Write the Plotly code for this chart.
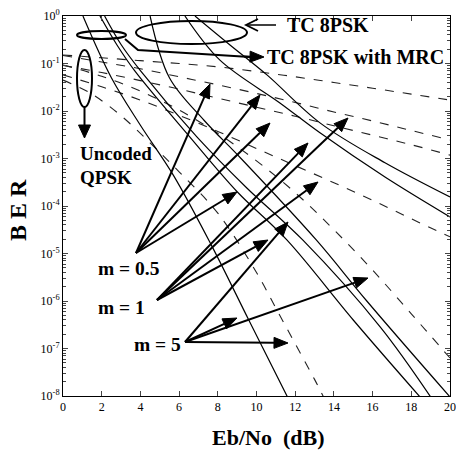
import math
import plotly.graph_objects as go

# ---------------- data (x: Eb/No in dB, y: log10(BER)) ----------------
ebno = [0, 2, 4, 6, 8, 10, 12, 14, 16, 18, 20]
# uncoded QPSK (dashed)
q_m05 = [-0.82, -0.88, -0.94, -1.00, -1.07, -1.17, -1.28, -1.40, -1.52, -1.645, -1.77]
q_m1 = [-0.83, -0.97, -1.11, -1.28, -1.45, -1.63, -1.82, -2.02, -2.21, -2.41, -2.61]
q_m05_mrc = [-1.04, -1.19, -1.36, -1.54, -1.73, -1.92, -2.11, -2.31, -2.51, -2.71, -2.93]
q_m1_mrc = [-1.24, -1.49, -1.77, -2.09, -2.43, -2.79, -3.15, -3.51, -3.88, -4.27, -4.65]
q_m5 = [-1.03, -1.27, -1.58, -1.98, -2.47, -3.05, -3.72, -4.50, -5.35, -6.27, -7.20]
q_m5_mrc_x = [0, 1.4, 3, 4.5, 6, 8, 10, 11, 12, 13, 13.5]
q_m5_mrc = [-1.35, -1.62, -2.10, -2.67, -3.28, -4.15, -5.40, -6.15, -6.90, -7.65, -8.05]

# TC 8PSK (solid)
tc_a_x = [1.03, 2.5, 4.0, 5.7, 7.7, 9.6, 11.6]
tc_a_y = [0.0, -1.3, -2.3, -3.35, -4.85, -6.4, -8.02]
tc_b_x = [1.91, 2.79, 3.7, 6.56, 9.0, 11.58, 15.0, 18.45]
tc_b_y = [0.0, -0.61, -1.15, -2.55, -3.7, -4.72, -6.4, -8.02]
tc_c_x = [2.15, 3.0, 4.0, 6.93, 9.5, 12.4, 16.4, 19.0]
tc_c_y = [0.0, -0.6, -1.15, -2.55, -3.62, -4.72, -6.55, -8.02]
tc_d_x = [4.5, 5.5, 7.3, 9.2, 13.1, 15.7, 20.0]
tc_d_y = [0.0, -1.3, -2.2, -3.0, -4.72, -6.0, -8.02]
tc_e_x = [6.82, 8.63, 10.54, 13.28, 16.64, 20.0]
tc_e_y = [0.0, -0.61, -1.24, -2.25, -3.09, -3.81]
tc_f_x = [6.3, 8.11, 11.21, 13.28, 16.64, 20.0]
tc_f_y = [0.0, -0.93, -1.83, -2.46, -3.39, -4.23]

x_ticks = [0, 2, 4, 6, 8, 10, 12, 14, 16, 18, 20]
y_exps = [0, -1, -2, -3, -4, -5, -6, -7, -8]

fig = go.Figure()

dashed = [(ebno, q_m05), (ebno, q_m1), (ebno, q_m05_mrc), (ebno, q_m1_mrc),
          (ebno, q_m5), (q_m5_mrc_x, q_m5_mrc)]
for xs, ys in dashed:
    fig.add_trace(go.Scatter(x=xs, y=[10 ** v for v in ys], mode="lines",
                             line=dict(color="#222", width=1.1, dash="9px,9px"),
                             line_shape="spline", hoverinfo="skip"))

solid = [(tc_a_x, tc_a_y), (tc_b_x, tc_b_y), (tc_c_x, tc_c_y),
         (tc_d_x, tc_d_y), (tc_e_x, tc_e_y), (tc_f_x, tc_f_y)]
for xs, ys in solid:
    fig.add_trace(go.Scatter(x=xs, y=[10 ** v for v in ys], mode="lines",
                             line=dict(color="black", width=1.2),
                             line_shape="spline", hoverinfo="skip"))

# ---------------- decorations (pixel helpers -> paper coords) ----------------
L, R, T, B = 63, 450, 16, 396


def px(x):
    return (x - L) / (R - L)


def py(y):
    return (B - y) / (B - T)


def path_of(pts, close=False):
    s = "M " + " L ".join(f"{px(a)},{py(b)}" for a, b in pts)
    return s + (" Z" if close else "")


FONT = "Liberation Serif"
shapes = []
# ellipses
for x0, y0, x1, y1 in [(77, 31, 126, 39), (136, 21, 247, 44), (77, 50, 92, 107)]:
    shapes.append(dict(type="circle", xref="paper", yref="paper",
                       x0=px(x0), x1=px(x1), y0=py(y1), y1=py(y0),
                       line=dict(color="black", width=2)))
# connector from small ellipse to "TC 8PSK with MRC"
shapes.append(dict(type="path", xref="paper", yref="paper",
                   path=path_of([(125, 39), (138, 50), (250, 57)]),
                   line=dict(color="black", width=2)))
# pointer to big ellipse ("TC 8PSK"), open head
shapes.append(dict(type="path", xref="paper", yref="paper",
                   path=path_of([(246, 25), (276, 25)]),
                   line=dict(color="black", width=1.5)))
shapes.append(dict(type="path", xref="paper", yref="paper",
                   path=path_of([(258, 19), (246, 25), (258, 31)]),
                   line=dict(color="black", width=1.8)))


def arrow(hx, hy, tx, ty, hl=14, hw=5.5, draw_line=True):
    d = math.hypot(hx - tx, hy - ty)
    ux, uy = (hx - tx) / d, (hy - ty) / d
    bx, by = hx - ux * hl, hy - uy * hl
    if draw_line:
        shapes.append(dict(type="path", xref="paper", yref="paper",
                           path=path_of([(tx, ty), (bx, by)]),
                           line=dict(color="black", width=2)))
    tri = [(hx, hy), (bx - uy * hw, by + ux * hw), (bx + uy * hw, by - ux * hw)]
    shapes.append(dict(type="path", xref="paper", yref="paper",
                       path=path_of(tri, close=True), fillcolor="black",
                       line=dict(color="black", width=1)))


arrow(264, 57, 244, 56.5)
arrow(84.5, 138, 84.5, 107, hl=13, hw=6)

# m labels arrows
v05, v1, v5 = (136, 253), (157, 300), (185, 342)
for hx, hy in [(210, 84), (260, 95), (270, 123), (237, 192)]:
    arrow(hx, hy, *v05)
for hx, hy in [(348, 118), (308, 143), (318, 182), (268, 240)]:
    arrow(hx, hy, *v1)
for hx, hy in [(288, 222), (237, 318), (368, 278), (288, 343)]:
    arrow(hx, hy, *v5)

annotations = []


def label(text, x, y, size, xanchor="left", angle=0):
    annotations.append(dict(x=px(x), y=py(y), xref="paper", yref="paper",
                            text=text, showarrow=False, xanchor=xanchor,
                            yanchor="middle", textangle=angle,
                            font=dict(family=FONT, size=size, color="black")))


label("<b>TC 8PSK</b>", 285, 25, 20)
label("<b>TC 8PSK with MRC</b>", 265, 57, 20)
label("<b>Uncoded</b>", 78, 153, 19)
label("<b>QPSK</b>", 78, 177, 19)
label("<b>m = 0.5</b>", 96, 268, 19.5)
label("<b>m = 1</b>", 96, 307, 19.5)
label("<b>m = 5</b>", 132, 344, 19.5)
label("<b>Eb/No&nbsp; (dB)</b>", 268, 437, 22, xanchor="center")
label("<b>B E R</b>", 18, 210, 24, xanchor="center", angle=-90)

fig.update_layout(
    width=456, height=454,
    margin=dict(l=L, r=456 - R, t=T, b=454 - B, autoexpand=False),
    paper_bgcolor="white", plot_bgcolor="white", showlegend=False,
    font=dict(family=FONT, color="black"),
    shapes=shapes, annotations=annotations,
    xaxis=dict(range=[0, 20], tickvals=x_ticks, ticks="inside", ticklen=5,
               mirror="allticks", showline=True, linecolor="black", linewidth=1,
               showgrid=False, zeroline=False, tickfont=dict(size=12),
               automargin=False),
    yaxis=dict(type="log", range=[-8, 0], tickvals=[10 ** e for e in y_exps],
               ticktext=[f"10<sup>{e}</sup>" for e in y_exps],
               ticks="inside", ticklen=5, mirror="allticks", showline=True,
               linecolor="black", linewidth=1, showgrid=False, zeroline=False,
               tickfont=dict(size=12), automargin=False,
               minor=dict(ticks="inside", ticklen=3, showgrid=False,
                          tickvals=[m * 10 ** e for e in range(-8, 0) for m in range(2, 10)])),
)

fig.write_html("out.html")
